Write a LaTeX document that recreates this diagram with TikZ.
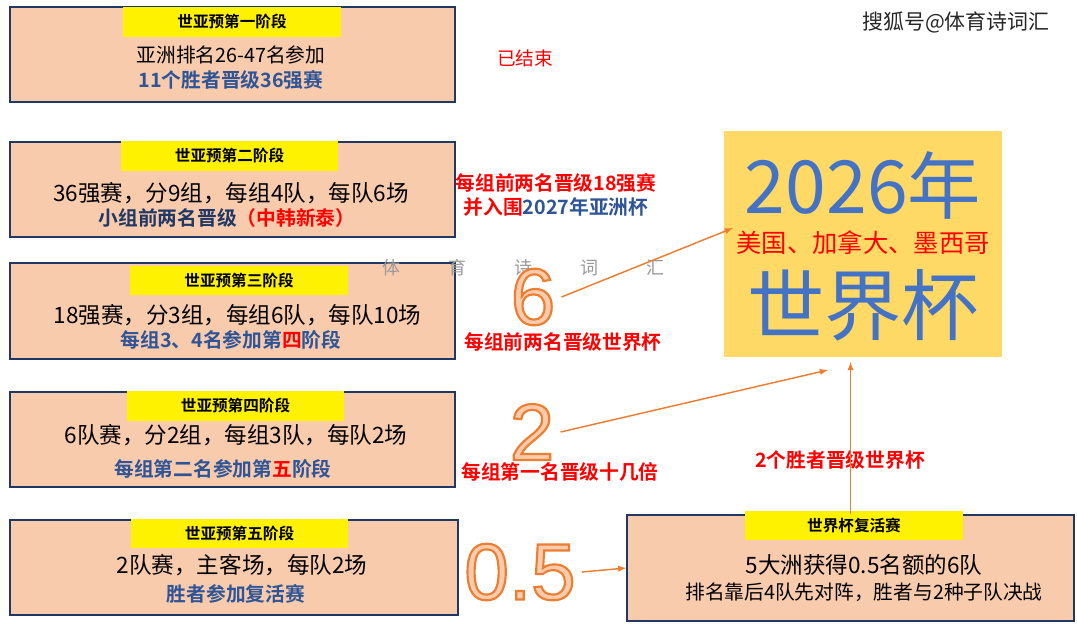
\documentclass[tikz,border=0pt]{standalone}
\usepackage{fontspec}
\setmainfont{Noto Sans CJK SC}[BoldFont={Noto Sans CJK SC Bold}]
\newfontfamily\numfont{Liberation Sans}
\usetikzlibrary{fit}
\definecolor{peach}{HTML}{F8CBAD}
\definecolor{navy}{HTML}{1F3864}
\definecolor{txtblue}{HTML}{2F5597}
\definecolor{wcblue}{HTML}{4472C4}
\definecolor{wcfill}{HTML}{FFD966}
\definecolor{arrorange}{HTML}{ED7D31}
\newcommand{\fsz}[1]{\fontsize{#1}{#1}\selectfont}
\newcommand{\outlined}[1]{\special{pdf:code 2 Tr 0.929 0.490 0.192 RG 1.6 w}#1\special{pdf:code 0 Tr}}
\begin{document}
\begin{tikzpicture}[>=latex, x=0.75pt, y=-0.75pt,
	stagebox/.style={draw=navy, line width=1.1pt, fill=peach, inner sep=0},
	header/.style={fill=yellow, minimum width=163pt, minimum height=22pt, inner sep=0, font=\fsz{11.7}\bfseries},
	bigline/.style={inner sep=0, font=\fsz{16.9}},
	subline/.style={inner sep=0, font=\fsz{14.8}\bfseries, text=txtblue},
	redlabel/.style={inner sep=0, font=\fsz{14.8}\bfseries, text=red},
	bignum/.style={inner sep=0, font=\numfont\fsz{60}, text=peach},
	arr/.style={->, draw=arrorange, line width=1.1pt}]
	\fill[white] (0,0) rectangle (1077,629);
	\useasboundingbox (0,0) rectangle (1077,629);

	\node[stagebox, fit={(10,7) (455,102)}] (s1) {};
	\node[header] (h1) at (232,22) {世亚预第一阶段};
	\node[inner sep=0, font=\fsz{14.8}] (s1a) at (231,55) {亚洲排名26-47名参加};
	\node[subline] (s1b) at (231,80) {11个胜者晋级36强赛};

	\node[stagebox, fit={(10,142) (455,237)}] (s2) {};
	\node[header] (h2) at (229.5,156) {世亚预第二阶段};
	\node[bigline] (s2a) at (231,193) {36强赛，分9组，每组4队，每队6场};
	\node[subline, text=navy] (s2b) at (227,218) {小组前两名晋级\textcolor{red}{（中韩新泰）}};

	\node[stagebox, fit={(10,263) (455,359)}] (s3) {};
	\node[header] (h3) at (239,280.5) {世亚预第三阶段};
	\node[bigline] (s3a) at (237.5,315) {18强赛，分3组，每组6队，每队10场};
	\node[subline] (s3b) at (231,340) {每组3、4名参加第\textcolor{red}{四}阶段};

	\node[stagebox, fit={(10,392) (455,487)}] (s4) {};
	\node[header] (h4) at (235.5,406) {世亚预第四阶段};
	\node[bigline] (s4a) at (236,435) {6队赛，分2组，每组3队，每队2场};
	\node[subline] (s4b) at (223,469) {每组第二名参加第\textcolor{red}{五}阶段};

	\node[stagebox, fit={(10,520) (458,615)}] (s5) {};
	\node[header] (h5) at (239.5,533.5) {世亚预第五阶段};
	\node[bigline] (s5a) at (242,565) {2队赛，主客场，每队2场};
	\node[subline] (s5b) at (236,594) {胜者参加复活赛};

	\node[stagebox, fit={(627,515) (1074,621)}] (fuhuo) {};
	\node[header] (hf) at (854,525.5) {世界杯复活赛};
	\node[bigline] (fa) at (864,565) {5大洲获得0.5名额的6队};
	\node[inner sep=0, font=\fsz{14.8}] (fb) at (864,592) {排名靠后4队先对阵，胜者与2种子队决战};

	\node[fill=wcfill, inner sep=0, fit={(724,131) (1002,357)}] (wc) {};
	\node[inner sep=0, font=\fsz{55}, text=wcblue] (wcyear) at (863,185) {2026年};
	\node[inner sep=0, font=\fsz{19}, text=red] (wchost) at (863,243) {美国、加拿大、墨西哥};
	\node[inner sep=0, font=\fsz{58}, text=wcblue] (wcname) at (863,305) {世界杯};

	\node[inner sep=0, font=\fsz{14}, text=red] (done) at (525,58) {已结束};
	\node[inner sep=0, font=\fsz{15.7}, text=black!85] (mark) at (956,22) {搜狐号@体育诗词汇};
	\foreach \ch [count=\i] in {体,育,诗,词,汇}
		\node[inner sep=0, font=\fsz{13.5}, text=black!40] (wm\i) at (325+66*\i,268) {\ch};

	\node[redlabel] (r2a) at (556,183) {每组前两名晋级18强赛};
	\node[redlabel] (r2b) at (556,207) {并入围\textcolor{txtblue}{2027年亚洲杯}};
	\node[redlabel] (r3) at (563,342) {每组前两名晋级世界杯};
	\node[redlabel] (r4) at (560,472) {每组第一名晋级十几倍};
	\node[redlabel] (rf) at (840,460) {2个胜者晋级世界杯};

	\node[bignum] (n6) at (533,297) {\outlined{6}};
	\node[bignum] (n2) at (532,432) {\outlined{2}};
	\node[bignum] (n05) at (520,572) {\outlined{0.5}};

	\coordinate (t6) at (733,228);
	\coordinate (t2) at (828,370);
	\coordinate (tf) at (fuhuo.north |- 0,362);
	\draw[arr] (n6.east) ++(6,0) -- (t6);
	\draw[arr] (n2.east) ++(6,0) -- (t2);
	\draw[arr] (n05.east) ++(6,0) -- (fuhuo.west);
	\draw[arr] (fuhuo.north) -- (tf);
\end{tikzpicture}
\end{document}
